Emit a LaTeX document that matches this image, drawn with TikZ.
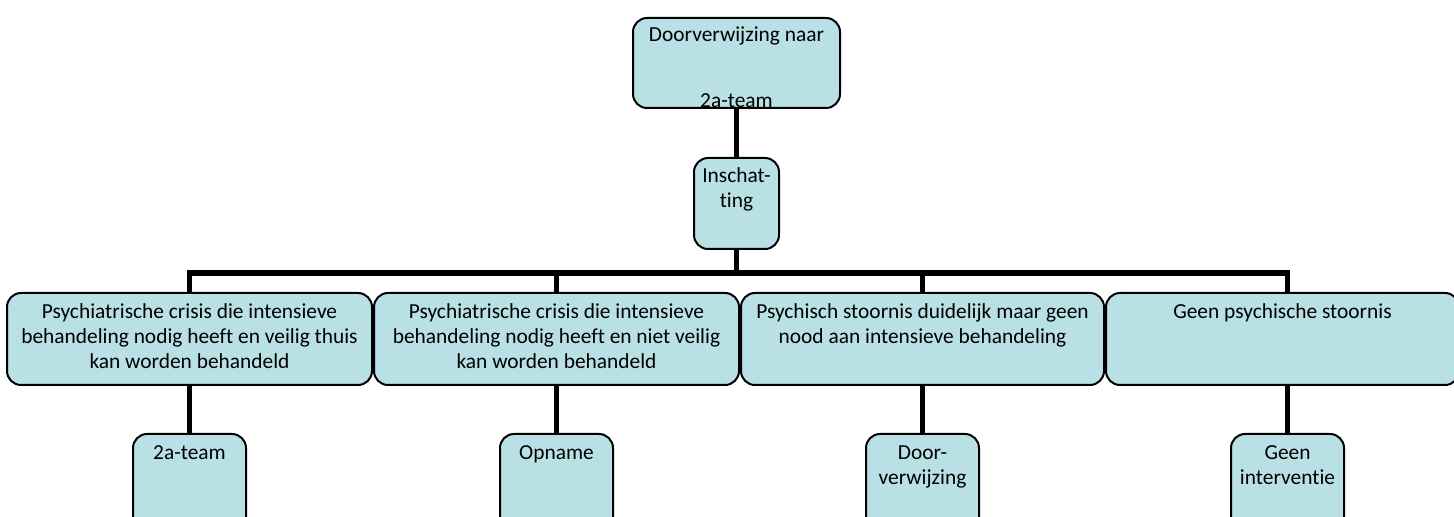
\documentclass[tikz,border=0pt]{standalone}
\usepackage{fontspec}
\setmainfont{Carlito}[Ligatures=NoCommon]
\usepackage{tikz}
\usetikzlibrary{positioning}
\definecolor{boxblue}{RGB}{185,224,228}

\begin{document}
\begin{tikzpicture}
	[x=0.5pt,y=-0.5pt,
		conn/.style={line width=2.8pt},
		box/.style={draw,line width=1pt,fill=boxblue,rounded corners=7pt,inner sep=0pt},
		wide box/.style={box,minimum width=#1,minimum height=46pt},
		end box/.style={box,minimum width=56.5pt,minimum height=50pt},
		top text/.style={anchor=north,align=center,inner sep=5pt,font=\fontsize{10.7}{12.6}\selectfont},
		end text/.style={top text,inner sep=6pt}]

	\useasboundingbox (0,0) rectangle (1454,517);
	\clip (0,0) rectangle (1454,517);

	\node[box,minimum width=103.5pt,minimum height=45pt,
		label={[top text,inner sep=4.5pt]north:Doorverwijzing naar},
		path picture={\node[anchor=base,inner sep=0pt,font=\fontsize{10.7}{12.6}\selectfont]
			at ([yshift=0.3pt]path picture bounding box.south) {2a-team};}] (D0) at (736.5,63) {};
	\node[box,minimum width=42.5pt,minimum height=45.5pt,below=24pt of D0,
		label={[top text]north:Inschat-\\ting}] (I0) {};

	% tweede rij
	\node[wide box=182.5pt,label={[top text,inner sep=5.5pt]north:Psychiatrische crisis die intensieve\\behandeling nodig heeft en veilig thuis\\kan worden behandeld}] (P1) at (189.5,339) {};
	\node[wide box=182.5pt,right=0pt of P1,label={[top text,inner sep=5.5pt]north:Psychiatrische crisis die intensieve\\behandeling nodig heeft en niet veilig\\kan worden behandeld}] (P2) {};
	\node[wide box=181.5pt,right=0pt of P2,label={[top text,inner sep=5.5pt]north:Psychisch stoornis duidelijk maar geen\\nood aan intensieve behandeling}] (P3) {};
	\node[wide box=176.5pt,right=0pt of P3,label={[top text,inner sep=5.5pt]north:Geen psychische stoornis}] (P4) {};

	% derde rij
	\node[end box,below=23.5pt of P1,label={[end text]north:2a-team}] (U1) {};
	\node[end box,below=23.5pt of P2,label={[end text]north:Opname}] (U2) {};
	\node[end box,below=23.5pt of P3,label={[end text]north:Door-\\verwijzing}] (U3) {};
	\node[end box,below=23.5pt of P4,xshift=2.5pt,label={[end text]north:Geen\\interventie}] (U4) {};

	\path (I0.south) ++(0,23) coordinate (bar);

	\draw[conn] (D0) -- (I0);
	\draw[conn] (I0) -- (bar);
	\draw[conn] (P1.north) |- (bar) -| (U4.north |- P4.north);
	\draw[conn] (P2.north) -- (P2.north |- bar);
	\draw[conn] (P3.north) -- (P3.north |- bar);
	\draw[conn] (P1) -- (U1);
	\draw[conn] (P2) -- (U2);
	\draw[conn] (P3) -- (U3);
	\draw[conn] (U4.north |- P4.south) -- (U4.north);

\end{tikzpicture}
\end{document}
